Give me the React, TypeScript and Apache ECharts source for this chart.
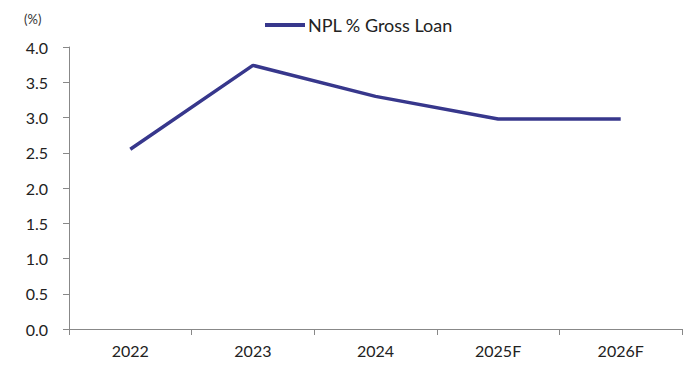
import React, { useEffect, useRef } from "react";
import * as echarts from "echarts";

const categories = ["2022", "2023", "2024", "2025F", "2026F"];
const nplValues = [2.55, 3.74, 3.3, 2.98, 2.98];
const seriesName = "NPL % Gross Loan";
const unitLabel = "(%)";

export default function App() {
  const ref = useRef<HTMLDivElement>(null);
  useEffect(() => {
    if (!ref.current) return;
    const chart = echarts.init(ref.current, null, { renderer: "svg" });
    const font = "Lato, 'Open Sans', sans-serif";
    chart.setOption({
      animation: false,
      backgroundColor: "#ffffff",
      grid: { left: 69, right: 6, top: 47, bottom: 38, containLabel: false },
      legend: {
        data: [seriesName],
        top: 11,
        left: 260,
        icon: "rect",
        itemWidth: 40,
        itemHeight: 4,
        itemGap: 10,
        textStyle: { fontFamily: font, fontSize: 18, color: "#222", padding: [0, 0, 0, -2] },
      },
      graphic: [
        {
          type: "text",
          left: 24,
          top: 12,
          style: { text: unitLabel, fontFamily: font, fontSize: 13, fill: "#333" },
        },
      ],
      xAxis: {
        type: "category",
        data: categories,
        boundaryGap: true,
        axisLine: { lineStyle: { color: "#888", width: 1 } },
        axisTick: { show: true, alignWithLabel: false, length: 6, lineStyle: { color: "#888" } },
        axisLabel: { fontFamily: font, fontSize: 16, color: "#222", margin: 13 },
        splitLine: { show: false },
      },
      yAxis: {
        type: "value",
        min: 0,
        max: 4,
        interval: 0.5,
        axisLine: { show: true, lineStyle: { color: "#888", width: 1 } },
        axisTick: { show: true, length: 6, lineStyle: { color: "#888" } },
        axisLabel: {
          fontFamily: font,
          fontSize: 16,
          color: "#222",
          margin: 21,
          formatter: (v: number) => v.toFixed(1),
        },
        splitLine: { show: false },
      },
      series: [
        {
          name: seriesName,
          type: "line",
          data: nplValues,
          symbol: "none",
          lineStyle: { color: "#37378c", width: 3.5 },
          itemStyle: { color: "#37378c" },
        },
      ],
    });
    return () => chart.dispose();
  }, []);
  return <div ref={ref} style={{ width: 688, height: 367, position: "absolute", left: 0, top: 0 }} />;
}
